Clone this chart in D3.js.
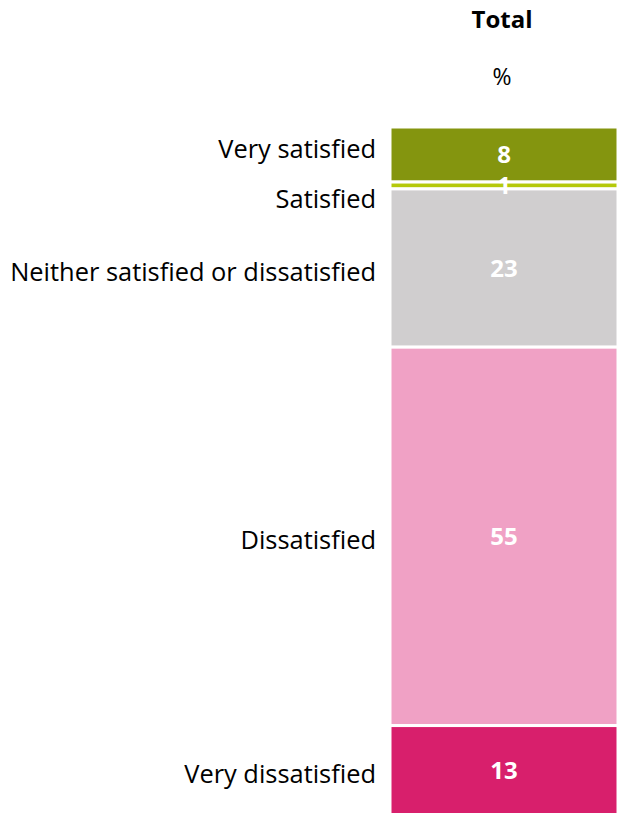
<!DOCTYPE html>
<html>
<head>
<meta charset="utf-8">
<script src="https://cdn.jsdelivr.net/npm/d3@7"></script>
<style>
  html, body { margin: 0; padding: 0; background: #fff; }
  svg { display: block; }
  text { font-family: "Open Sans", Lato, sans-serif; }
</style>
</head>
<body>
<svg id="chart" width="619" height="813"></svg>
<script>
// Satisfaction breakdown, one stacked column (percent of total)
const categories = ["Very satisfied", "Satisfied", "Neither satisfied or dissatisfied", "Dissatisfied", "Very dissatisfied"];
const values = [8, 1, 23, 55, 13];
const colors = ["#84950f", "#b5c90b", "#d0cecf", "#f0a1c5", "#d81f6c"];
const columnTitle = "Total";
const unitLabel = "%";

const svg = d3.select("#chart");

const barLeft = 390, barRight = 618;
const barTop = 127, barBottom = 815;
const labelRight = 376, labelLeftLimit = 10;

// stack the values top to bottom
let acc = 0;
const segs = values.map((v, i) => {
  const s = { cat: categories[i], value: v, color: colors[i], y0: acc, y1: acc + v };
  acc += v;
  return s;
});

const y = d3.scaleLinear().domain([0, d3.sum(values)]).range([barTop, barBottom]);

svg.selectAll("rect.seg")
  .data(segs)
  .join("rect")
  .attr("class", "seg")
  .attr("x", barLeft)
  .attr("width", barRight - barLeft)
  .attr("y", d => y(d.y0))
  .attr("height", d => y(d.y1) - y(d.y0))
  .attr("fill", d => d.color)
  .attr("stroke", "#fff")
  .attr("stroke-width", 3);

// value labels centred inside each segment
const cx = (barLeft + barRight) / 2;
svg.selectAll("text.val")
  .data(segs)
  .join("text")
  .attr("class", "val")
  .attr("x", cx)
  .attr("y", d => (y(d.y0) + y(d.y1)) / 2)
  .attr("dy", "0.36em")
  .attr("text-anchor", "middle")
  .attr("fill", "#fff")
  .attr("font-weight", "bold")
  .attr("font-size", 24)
  .text(d => d.value);

// category labels, right-aligned, nudged apart where segments are thin
const minGap = 50;
const pos = segs.map(d => (y(d.y0) + y(d.y1)) / 2);
for (let iter = 0; iter < 50; iter++) {
  for (let i = 1; i < pos.length; i++) {
    const gap = pos[i] - pos[i - 1];
    if (gap < minGap) {
      const push = (minGap - gap) / 2;
      pos[i - 1] -= push;
      pos[i] += push;
    }
  }
}

const catLabels = svg.selectAll("text.cat")
  .data(segs)
  .join("text")
  .attr("class", "cat")
  .attr("x", labelRight)
  .attr("y", (d, i) => pos[i] + 4)
  .attr("dy", "0.35em")
  .attr("text-anchor", "end")
  .attr("fill", "#000")
  .attr("font-size", 24)
  .text(d => d.cat);

// size the labels so the longest one fills the space left of the bar
const widest = d3.max(catLabels.nodes(), n => n.getComputedTextLength());
const fitSize = 24 * (labelRight - labelLeftLimit) / widest;
catLabels.attr("font-size", fitSize);

// column header
svg.append("text")
  .attr("x", cx - 2)
  .attr("y", 28)
  .attr("text-anchor", "middle")
  .attr("font-weight", "bold")
  .attr("font-size", 24)
  .text(columnTitle);

svg.append("text")
  .attr("x", cx - 2)
  .attr("y", 85)
  .attr("text-anchor", "middle")
  .attr("font-size", 23)
  .text(unitLabel);
</script>
</body>
</html>
